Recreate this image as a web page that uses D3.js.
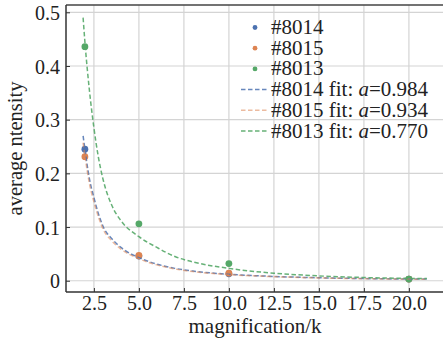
<!DOCTYPE html>
<meta charset="utf-8">
<title>average intensity vs magnification</title>
<style>
body { margin: 0; background: #fff; }
svg { display: block; }
.grid line { stroke: #d4d4d4; stroke-width: 1.2; }
</style>
<svg id="chart" width="443" height="344"></svg>
<script src="https://cdn.jsdelivr.net/npm/d3@7"></script>
<script>
'use strict';

// measured points
const magnification = [2, 5, 10, 20];
const s8014 = [0.245, 0.046, 0.013, 0.003];
const s8015 = [0.231, 0.047, 0.014, 0.003];
const s8013 = [0.436, 0.106, 0.032, 0.003];

// fit curves
const fitX    = [1.9, 2.0, 2.25, 2.5, 2.75, 3.0, 3.5, 4.0, 5.0, 6.0, 7.0, 8.0, 10.0, 12.5, 15.0, 17.5, 21.0];
const fit8014 = [0.270, 0.245, 0.190, 0.155, 0.125, 0.102, 0.078, 0.062, 0.043, 0.031, 0.023, 0.018, 0.012, 0.008, 0.0055, 0.004, 0.003];
const fit8015 = [0.257, 0.233, 0.181, 0.147, 0.119, 0.097, 0.074, 0.059, 0.041, 0.0295, 0.022, 0.017, 0.0114, 0.0076, 0.0052, 0.0038, 0.0028];
const fit8013 = [0.490, 0.445, 0.355, 0.285, 0.230, 0.190, 0.140, 0.112, 0.082, 0.062, 0.045, 0.035, 0.023, 0.014, 0.009, 0.006, 0.004];

const xTicks = [2.5, 5.0, 7.5, 10.0, 12.5, 15.0, 17.5, 20.0];
const yTicks = [0, 0.1, 0.2, 0.3, 0.4, 0.5];
const fitA = ["0.984", "0.934", "0.770"];

const names = ["#8014", "#8015", "#8013"];
const colors = ["#4C72B0", "#DD8452", "#55A868"];

const pL = 66, pR = 444, pT = 5, pB = 292;
const serif = '"Liberation Serif"';

const x = d3.scaleLinear().domain([0.95, 21.95]).range([pL, pR]);
const y = d3.scaleLinear().domain([-0.021, 0.5136]).range([pB, pT]);

const svg = d3.select("#chart");

svg.append("clipPath").attr("id", "clip")
  .append("rect").attr("x", pL).attr("y", pT).attr("width", pR - pL).attr("height", pB - pT);

// grid
const grid = svg.append("g").attr("class", "grid");
grid.selectAll(".gx").data(xTicks).enter().append("line")
    .attr("x1", d => x(d)).attr("x2", d => x(d))
    .attr("y1", pT).attr("y2", pB);
grid.selectAll(".gy").data(yTicks).enter().append("line")
    .attr("x1", pL).attr("x2", pR)
    .attr("y1", d => y(d)).attr("y2", d => y(d));

// axes, ticks pointing inward
const xAxis = svg.append("g").attr("transform", `translate(0,${pB})`)
  .call(d3.axisBottom(x).tickValues(xTicks).tickSizeInner(-4).tickSizeOuter(0)
        .tickFormat(d3.format(".1f")));
const yAxis = svg.append("g").attr("transform", `translate(${pL},0)`)
  .call(d3.axisLeft(y).tickValues(yTicks).tickSizeInner(-4).tickSizeOuter(0)
        .tickFormat(d => d === 0 ? "0" : d3.format(".1f")(d)));

[xAxis, yAxis].forEach(a => {
  a.select(".domain").remove();
  a.selectAll(".tick line").attr("stroke", "#333").attr("stroke-width", 1);
  a.selectAll("text").attr("fill", "#222")
    .style("font-family", serif).style("font-size", "20px");
});
xAxis.selectAll("text").attr("y", 18).attr("dy", 0);
yAxis.selectAll("text").attr("x", -6).attr("dy", "0.36em");

// spines
svg.append("line").attr("x1", pL).attr("x2", pR).attr("y1", pT).attr("y2", pT)
  .attr("stroke", "#444").attr("stroke-width", 1.5);
svg.append("line").attr("x1", pL).attr("x2", pL).attr("y1", pT).attr("y2", pB)
  .attr("stroke", "#333").attr("stroke-width", 1.5);
svg.append("line").attr("x1", pL).attr("x2", pR).attr("y1", pB).attr("y2", pB)
  .attr("stroke", "#333").attr("stroke-width", 1.5);

const plot = svg.append("g").attr("clip-path", "url(#clip)");

// scatter
[s8014, s8015, s8013].forEach((s, i) => {
  plot.selectAll(null).data(s).enter().append("circle")
    .attr("cx", (d, j) => x(magnification[j]))
    .attr("cy", d => y(d))
    .attr("r", 3.4)
    .attr("fill", colors[i]);
});

// fits
const line = d3.line().curve(d3.curveMonotoneX);
const fitOpacity = [0.85, 0.55, 0.9];
[fit8014, fit8015, fit8013].forEach((f, i) => {
  plot.append("path")
    .attr("d", line(f.map((v, j) => [x(fitX[j]), y(v)])))
    .attr("fill", "none")
    .attr("stroke", colors[i])
    .attr("stroke-opacity", fitOpacity[i])
    .attr("stroke-width", 1.5)
    .attr("stroke-dasharray", "4.5,2.5");
});

// legend
const leg = svg.append("g").attr("fill", "#222");
const rowY = [34, 54.7, 75.4, 96.1, 116.8, 137.5];
const legText = (yy) => leg.append("text").attr("x", 271).attr("y", yy)
  .style("font-family", serif).style("font-size", "21px");
names.forEach((n, i) => {
  leg.append("circle").attr("cx", 255).attr("cy", rowY[i] - 6.5).attr("r", 2.4).attr("fill", colors[i]);
  legText(rowY[i]).text(n);
});
names.forEach((n, i) => {
  const yy = rowY[i + 3];
  leg.append("line").attr("x1", 241).attr("x2", 269).attr("y1", yy - 6.5).attr("y2", yy - 6.5)
    .attr("stroke", colors[i]).attr("stroke-opacity", fitOpacity[i])
    .attr("stroke-width", 1.5).attr("stroke-dasharray", "4.5,2.5");
  const t = legText(yy);
  t.append("tspan").text(n + " fit: ");
  t.append("tspan").style("font-style", "italic").text("a");
  t.append("tspan").text("=" + fitA[i]);
});

// axis labels
svg.append("text").attr("x", 255).attr("y", 333).attr("text-anchor", "middle")
  .style("font-family", serif).style("font-size", "21px").attr("fill", "#222").text("magnification/k");
svg.append("text").attr("transform", "translate(22,148.5) rotate(-90)").attr("text-anchor", "middle")
  .style("font-family", serif).style("font-size", "20.5px").attr("fill", "#222").text("average ntensity");
</script>
